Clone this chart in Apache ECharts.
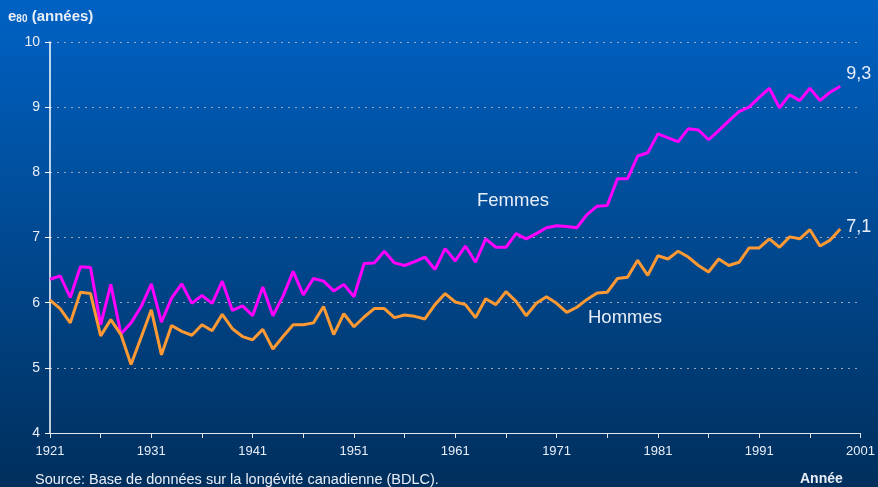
<!DOCTYPE html>
<html>
<head>
<meta charset="utf-8">
<script src="https://cdn.jsdelivr.net/npm/echarts@6/dist/echarts.min.js"></script>
<style>html,body{margin:0;padding:0;}#c{width:878px;height:487px;}</style>
</head>
<body>
<div id="c"></div>
<script>
const years = [];
for (let y = 1921; y <= 2001; y++) years.push(String(y));

const femmes = [6.36,6.41,6.08,6.55,6.54,5.66,6.28,5.52,5.69,5.94,
  6.29,5.70,6.07,6.29,5.99,6.11,5.99,6.33,5.88,5.95,
  5.80,6.24,5.80,6.10,6.48,6.12,6.37,6.33,6.18,6.28,
  6.09,6.60,6.61,6.79,6.61,6.57,6.63,6.70,6.51,6.83,
  6.64,6.87,6.62,6.98,6.85,6.85,7.06,6.98,7.06,7.15,
  7.18,7.17,7.15,7.35,7.48,7.49,7.90,7.90,8.25,8.30,
  8.59,8.53,8.47,8.67,8.65,8.50,8.64,8.79,8.93,9.00,
  9.15,9.29,8.99,9.19,9.10,9.29,9.10,9.23,9.32];

const hommes = [6.04,5.91,5.69,6.16,6.14,5.49,5.74,5.51,5.05,5.47,
  5.89,5.20,5.65,5.56,5.50,5.66,5.57,5.82,5.60,5.48,
  5.43,5.59,5.29,5.48,5.66,5.66,5.69,5.94,5.51,5.83,
  5.63,5.78,5.91,5.91,5.77,5.81,5.79,5.75,5.97,6.14,
  6.01,5.97,5.77,6.06,5.97,6.17,6.02,5.80,5.99,6.09,
  5.99,5.85,5.93,6.05,6.15,6.16,6.37,6.39,6.65,6.42,
  6.72,6.67,6.79,6.70,6.57,6.47,6.67,6.57,6.62,6.84,
  6.84,6.98,6.85,7.01,6.98,7.12,6.87,6.96,7.13];

const endLabels = ['9,3', '7,1'];
const seriesNames = ['Femmes', 'Hommes'];

const chart = echarts.init(document.getElementById('c'));
const txt = '#e8eef8';
const font = '"Liberation Sans", Arial, sans-serif';
chart.setOption({
  backgroundColor: {type:'linear', x:0, y:0, x2:0, y2:1,
    colorStops:[{offset:0,color:'#0062c4'},{offset:1,color:'#002f5c'}]},
  animation: false,
  textStyle: {fontFamily: font},
  grid: {left: 50, right: 17, top: 42, bottom: 54},
  xAxis: {
    type: 'category', data: years, boundaryGap: false,
    axisLine: {lineStyle: {color: '#e0e6f0', width: 1}},
    axisTick: {interval: 4, length: 5, lineStyle: {color: '#e0e6f0'}},
    axisLabel: {interval: 9, color: txt, fontSize: 13, margin: 12, fontFamily: font},
    splitLine: {show: false}
  },
  yAxis: {
    type: 'value', min: 4, max: 10, interval: 1,
    axisLine: {show: true, lineStyle: {color: '#ffffff', width: 1.5}},
    axisTick: {show: true, length: 5, lineStyle: {color: '#ffffff'}},
    axisLabel: {color: txt, fontSize: 14, margin: 10, fontFamily: font},
    splitLine: {lineStyle: {color: '#9aa8c0', type: [2, 5], width: 1}}
  },
  series: [
    {name: seriesNames[0], type: 'line', data: femmes, showSymbol: false,
     lineStyle: {color: '#ff00ff', width: 3}, itemStyle: {color: '#ff00ff'},
     endLabel: {show: true, formatter: endLabels[0], color: txt, fontSize: 18, offset: [-2, -12], fontFamily: font}},
    {name: seriesNames[1], type: 'line', data: hommes, showSymbol: false,
     lineStyle: {color: '#ff9933', width: 3}, itemStyle: {color: '#ff9933'},
     endLabel: {show: true, formatter: endLabels[1], color: txt, fontSize: 18, offset: [-2, -2], fontFamily: font}}
  ],
  graphic: [
    {type: 'text', left: 8, top: 9, style: {
      text: '{b|e}{s|80}{b| (années)}',
      rich: {b: {fill: txt, fontSize: 15, fontWeight: 'bold', fontFamily: font},
             s: {fill: txt, fontSize: 10, fontWeight: 'bold', fontFamily: font, padding: [6,0,0,0]}}}},
    {type: 'text', left: 477, top: 191, style: {text: seriesNames[0], fill: txt, fontSize: 18.5, fontFamily: font}},
    {type: 'text', left: 588, top: 308, style: {text: seriesNames[1], fill: txt, fontSize: 18.5, fontFamily: font}},
    {type: 'text', left: 35, top: 472, style: {text: 'Source: Base de données sur la longévité canadienne (BDLC).', fill: txt, fontSize: 14.5, fontFamily: font}},
    {type: 'text', left: 800, top: 472, style: {text: 'Année', fill: txt, fontSize: 14, fontWeight: 'bold', fontFamily: font}}
  ]
});
</script>
</body>
</html>
